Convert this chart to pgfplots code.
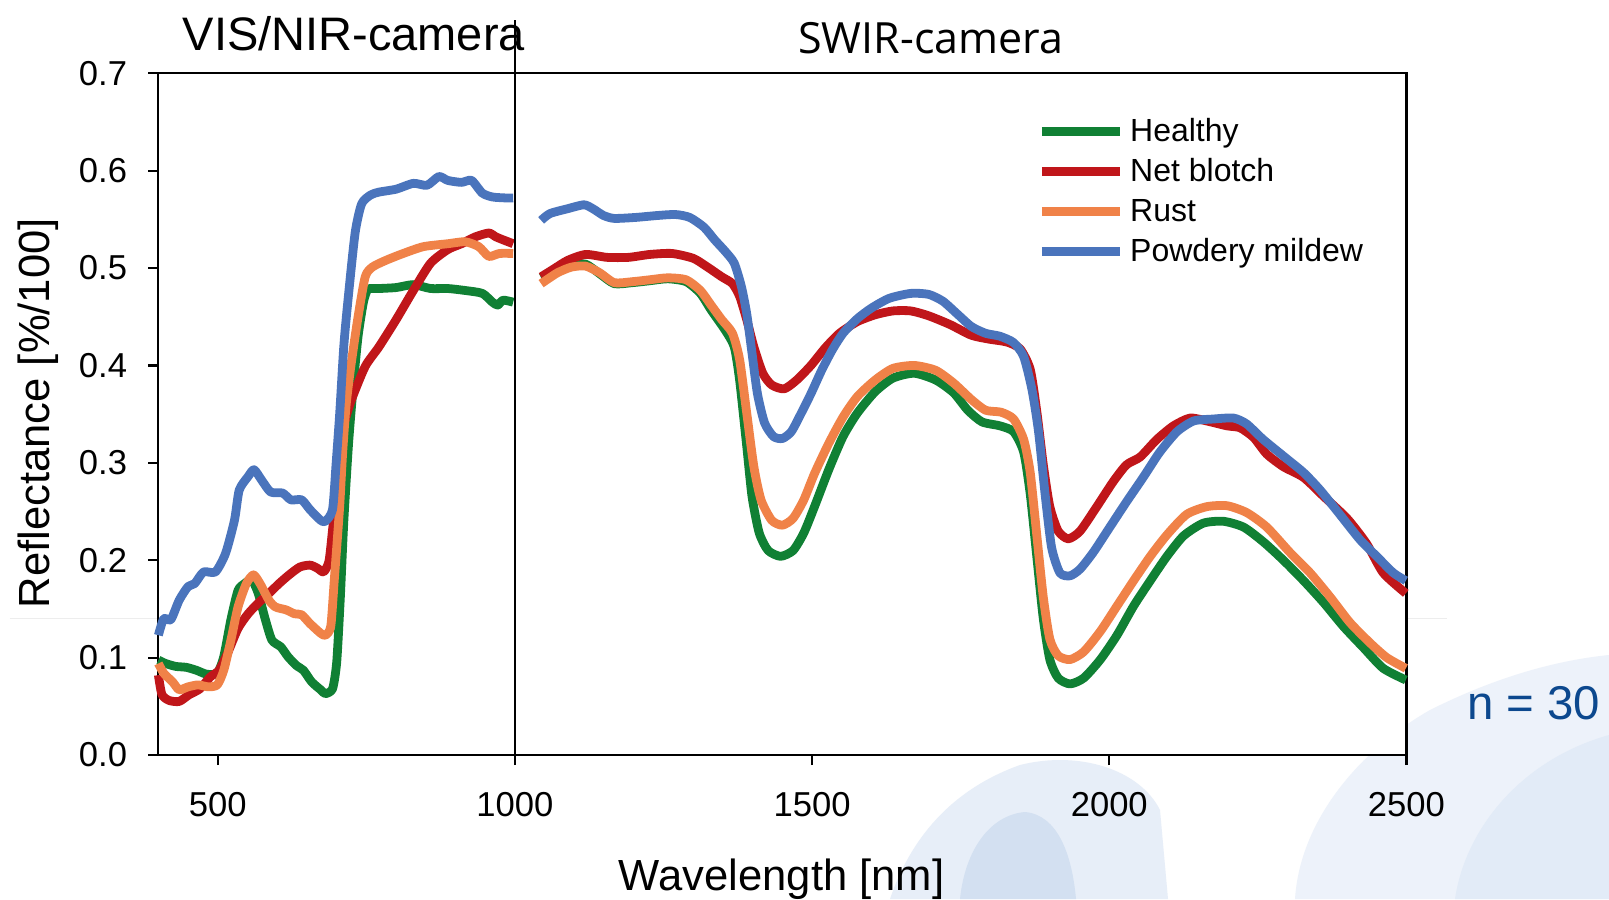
\documentclass[border=0pt]{standalone}
\usepackage{pgfplots}
\pgfplotsset{compat=1.18}
\usepackage{pgfplotstable}
\usepackage{fontspec}
\setmainfont{Liberation Sans}
\newfontfamily\swirfont{Open Sans}

\definecolor{healthy}{RGB}{16,128,52}
\definecolor{netblotch}{RGB}{192,22,26}
\definecolor{rust}{RGB}{240,130,72}
\definecolor{mildew}{RGB}{74,116,188}
\definecolor{nblue}{RGB}{12,72,142}
\definecolor{bgA}{RGB}{231,238,248}
\definecolor{bgB}{RGB}{211,224,241}
\definecolor{bgC}{RGB}{237,242,250}
\definecolor{bgD}{RGB}{226,235,247}

% mean spectra, wavelength [nm] vs reflectance; nan row = gap between the two cameras
\pgfplotstableread{
nm r
400 0.0975
412 0.094
429 0.091
447 0.090
464 0.087
481 0.083
499 0.084
510 0.101
522 0.139
534 0.169
545 0.176
557 0.180
568 0.166
580 0.139
591 0.118
606 0.111
618 0.101
632 0.092
644 0.087
658 0.075
673 0.067
681 0.063
693 0.068
700 0.095
706 0.160
712 0.240
720 0.320
728 0.380
736 0.430
745 0.465
752 0.478
760 0.479
771 0.479
800 0.480
829 0.483
858 0.479
887 0.479
916 0.477
945 0.474
962 0.465
971 0.462
980 0.467
997 0.465
1020 nan
1044 0.490
1071 0.498
1095 0.503
1119 0.504
1143 0.494
1167 0.484
1197 0.485
1227 0.487
1257 0.489
1288 0.486
1312 0.474
1330 0.457
1354 0.436
1369 0.419
1378 0.385
1390 0.317
1399 0.265
1411 0.228
1426 0.210
1447 0.204
1468 0.210
1486 0.228
1504 0.255
1528 0.293
1552 0.327
1576 0.351
1606 0.373
1636 0.387
1672 0.392
1708 0.385
1738 0.372
1762 0.354
1786 0.342
1816 0.338
1839 0.332
1856 0.311
1867 0.268
1878 0.204
1889 0.140
1900 0.098
1914 0.079
1934 0.073
1957 0.079
1985 0.098
2013 0.123
2041 0.153
2069 0.179
2097 0.204
2125 0.225
2158 0.238
2192 0.240
2226 0.234
2259 0.219
2293 0.200
2327 0.179
2360 0.157
2394 0.132
2428 0.110
2461 0.089
2499 0.077
}\tabHealthy

\pgfplotstableread{
nm r
400 0.082
406 0.062
418 0.056
435 0.055
452 0.062
470 0.068
487 0.080
502 0.087
516 0.104
534 0.130
551 0.145
568 0.156
586 0.166
603 0.176
620 0.185
638 0.193
655 0.195
667 0.192
678 0.188
687 0.199
693 0.231
699 0.265
707 0.317
713 0.341
725 0.365
748 0.399
771 0.419
800 0.447
829 0.477
858 0.505
887 0.519
910 0.525
933 0.532
956 0.536
968 0.532
980 0.529
997 0.525
1020 nan
1044 0.491
1065 0.499
1089 0.508
1119 0.514
1155 0.511
1191 0.511
1227 0.514
1264 0.515
1300 0.510
1324 0.501
1348 0.491
1366 0.484
1378 0.471
1390 0.447
1402 0.419
1417 0.392
1432 0.380
1453 0.376
1474 0.385
1498 0.400
1522 0.418
1546 0.433
1576 0.445
1606 0.452
1636 0.456
1666 0.456
1696 0.451
1732 0.442
1768 0.431
1798 0.427
1828 0.424
1850 0.417
1867 0.396
1878 0.353
1889 0.298
1900 0.255
1914 0.230
1931 0.222
1951 0.230
1979 0.255
2007 0.281
2029 0.298
2052 0.306
2080 0.324
2108 0.338
2136 0.346
2164 0.343
2198 0.338
2220 0.336
2243 0.326
2265 0.309
2293 0.296
2327 0.285
2360 0.266
2400 0.243
2433 0.217
2461 0.187
2499 0.166
}\tabNetBlotch

\pgfplotstableread{
nm r
400 0.094
409 0.084
424 0.075
435 0.067
450 0.070
467 0.072
484 0.070
499 0.072
510 0.087
522 0.118
534 0.152
548 0.176
560 0.185
571 0.176
586 0.159
597 0.152
615 0.149
629 0.145
641 0.144
655 0.135
673 0.125
681 0.123
690 0.132
696 0.180
705 0.255
710 0.310
716 0.360
724 0.400
736 0.450
748 0.491
760 0.501
783 0.508
812 0.515
846 0.522
887 0.525
916 0.527
939 0.522
956 0.512
974 0.515
997 0.515
1020 nan
1044 0.484
1071 0.495
1095 0.501
1119 0.502
1143 0.495
1167 0.485
1197 0.486
1227 0.488
1257 0.490
1288 0.488
1312 0.477
1330 0.462
1348 0.447
1366 0.433
1378 0.406
1390 0.351
1402 0.296
1414 0.262
1432 0.241
1450 0.236
1468 0.243
1486 0.262
1504 0.289
1528 0.320
1552 0.347
1576 0.368
1606 0.385
1636 0.397
1672 0.400
1708 0.395
1738 0.382
1768 0.365
1792 0.354
1818 0.352
1839 0.345
1856 0.324
1867 0.290
1878 0.226
1889 0.162
1900 0.119
1914 0.102
1934 0.098
1957 0.106
1985 0.127
2013 0.153
2041 0.179
2069 0.204
2097 0.226
2130 0.247
2164 0.255
2198 0.256
2231 0.249
2265 0.234
2304 0.208
2338 0.187
2372 0.162
2405 0.136
2439 0.115
2467 0.100
2499 0.089
}\tabRust

\pgfplotstableread{
nm r
400 0.123
409 0.140
421 0.139
435 0.159
450 0.173
461 0.176
476 0.188
496 0.188
513 0.207
528 0.241
536 0.272
551 0.286
561 0.293
574 0.282
589 0.270
609 0.269
623 0.262
641 0.262
655 0.252
673 0.241
681 0.240
693 0.252
699 0.299
705 0.350
712 0.420
719 0.467
731 0.536
742 0.566
757 0.575
771 0.578
800 0.581
829 0.587
852 0.585
872 0.594
887 0.590
910 0.588
927 0.590
945 0.577
962 0.573
985 0.572
997 0.572
1020 nan
1044 0.549
1059 0.556
1089 0.561
1116 0.565
1131 0.561
1149 0.554
1167 0.551
1203 0.552
1240 0.554
1270 0.555
1294 0.552
1318 0.542
1336 0.529
1354 0.517
1369 0.505
1381 0.481
1390 0.453
1399 0.412
1408 0.371
1420 0.341
1435 0.327
1450 0.325
1465 0.332
1480 0.349
1498 0.371
1516 0.395
1534 0.416
1552 0.433
1576 0.448
1600 0.459
1630 0.469
1666 0.474
1696 0.473
1720 0.466
1744 0.453
1768 0.440
1792 0.433
1816 0.430
1839 0.4235
1856 0.409
1870 0.375
1881 0.332
1892 0.268
1903 0.213
1917 0.187
1934 0.184
1951 0.191
1973 0.208
2001 0.234
2029 0.260
2057 0.285
2085 0.311
2114 0.332
2142 0.343
2175 0.345
2209 0.346
2231 0.340
2259 0.324
2293 0.307
2327 0.290
2355 0.272
2388 0.247
2422 0.221
2450 0.204
2478 0.187
2499 0.179
}\tabMildew

\begin{document}
\begin{tikzpicture}
\useasboundingbox[fill=white] (-79.2pt,-72pt) rectangle (725.3pt,377.5pt);

% slide background (full-size pixel coordinates)
\begin{scope}[shift={(-79.2pt,377.5pt)}, x=0.5pt, y=-0.5pt]
  \draw[black!7, line width=0.6pt] (10,618.7) -- (1447,618.7);
  \fill[bgA] (890,899) .. controls (910,840) and (950,790) .. (1020,765)
     .. controls (1080,750) and (1140,770) .. (1160,810) -- (1168,899) -- cycle;
  \fill[bgB] (960,899) .. controls (965,850) and (990,815) .. (1025,812)
     .. controls (1058,815) and (1072,855) .. (1076,899) -- cycle;
  \fill[bgC] (1295,899) .. controls (1300,820) and (1360,750) .. (1430,710)
     .. controls (1500,675) and (1560,660) .. (1609,655) -- (1609,899) -- cycle;
  \fill[bgD] (1455,899) .. controls (1465,830) and (1520,760) .. (1609,735) -- (1609,899) -- cycle;
\end{scope}

\begin{axis}[
  at={(0pt,0pt)}, anchor=south west,
  scale only axis, width=624pt, height=340.85pt,
  xmin=400, xmax=2500, ymin=0, ymax=0.7,
  axis background/.style={fill=white},
  axis line style={line width=1.1pt},
  every tick/.style={line width=1.1pt, black},
  major tick length=5pt,
  tick align=outside, tick pos=left,
  xtick={500,1000,1500,2000,2500},
  ytick={0,0.1,0.2,0.3,0.4,0.5,0.6,0.7},
  /pgf/number format/assume math mode=true,
  xticklabel style={/pgf/number format/1000 sep={}, font=\fontsize{17.3}{20}\selectfont,
    anchor=base, inner sep=0pt, yshift=-25.8pt},
  yticklabel style={/pgf/number format/.cd, fixed, fixed zerofill, precision=1, /tikz/.cd,
    font=\fontsize{17.3}{20}\selectfont, anchor=east, inner sep=0pt, xshift=-10.5pt},
  xlabel={Wavelength [nm]},
  ylabel={Reflectance [\%/100]},
  every axis x label/.style={at={(axis description cs:0.4994,-0.1992)}, anchor=base,
    font=\fontsize{21.8}{26}\selectfont},
  every axis y label/.style={at={(axis description cs:-0.0869,0.5014)}, rotate=90, anchor=base,
    font=\fontsize{21.8}{26}\selectfont},
  unbounded coords=jump,
  clip=false,
  legend cell align=left,
  legend image code/.code={\draw[#1, line width=4.4pt] (0pt,0.85pt) -- (39pt,0.85pt);},
  legend style={at={(axis description cs:0.7040,0.9343)}, anchor=north west,
    draw=none, fill=none, inner sep=0pt, row sep=4.9pt,
    font=\fontsize{16}{19}\selectfont,
    nodes={inner sep=0pt, text height=11.6pt, text depth=3.4pt},
    /tikz/every odd column/.append style={column sep=3pt}},
  every axis plot/.append style={line width=4.4pt, line join=round, smooth, tension=0.4},
]
\addplot[healthy] table[x=nm, y=r] {\tabHealthy};
\addplot[netblotch] table[x=nm, y=r] {\tabNetBlotch};
\addplot[rust] table[x=nm, y=r] {\tabRust};
\addplot[mildew] table[x=nm, y=r] {\tabMildew};
\legend{Healthy, Net blotch, Rust, Powdery mildew}
\draw[black, line width=1.1pt] (axis cs:1000,0) -- (axis cs:1000,0.7547);
\end{axis}

\node[anchor=base, inner sep=0pt, font=\fontsize{23.5}{28}\selectfont] at (97.7pt,352.4pt) {VIS/NIR-camera};
\node[anchor=base, inner sep=0pt, font=\swirfont\fontsize{21.5}{26}\selectfont] at (386.2pt,350.85pt) {SWIR-camera};
\node[anchor=base west, inner sep=0pt, text=nblue, font=\fontsize{23.7}{28}\selectfont] at (654.2pt,18pt) {n = 30};
\end{tikzpicture}
\end{document}
